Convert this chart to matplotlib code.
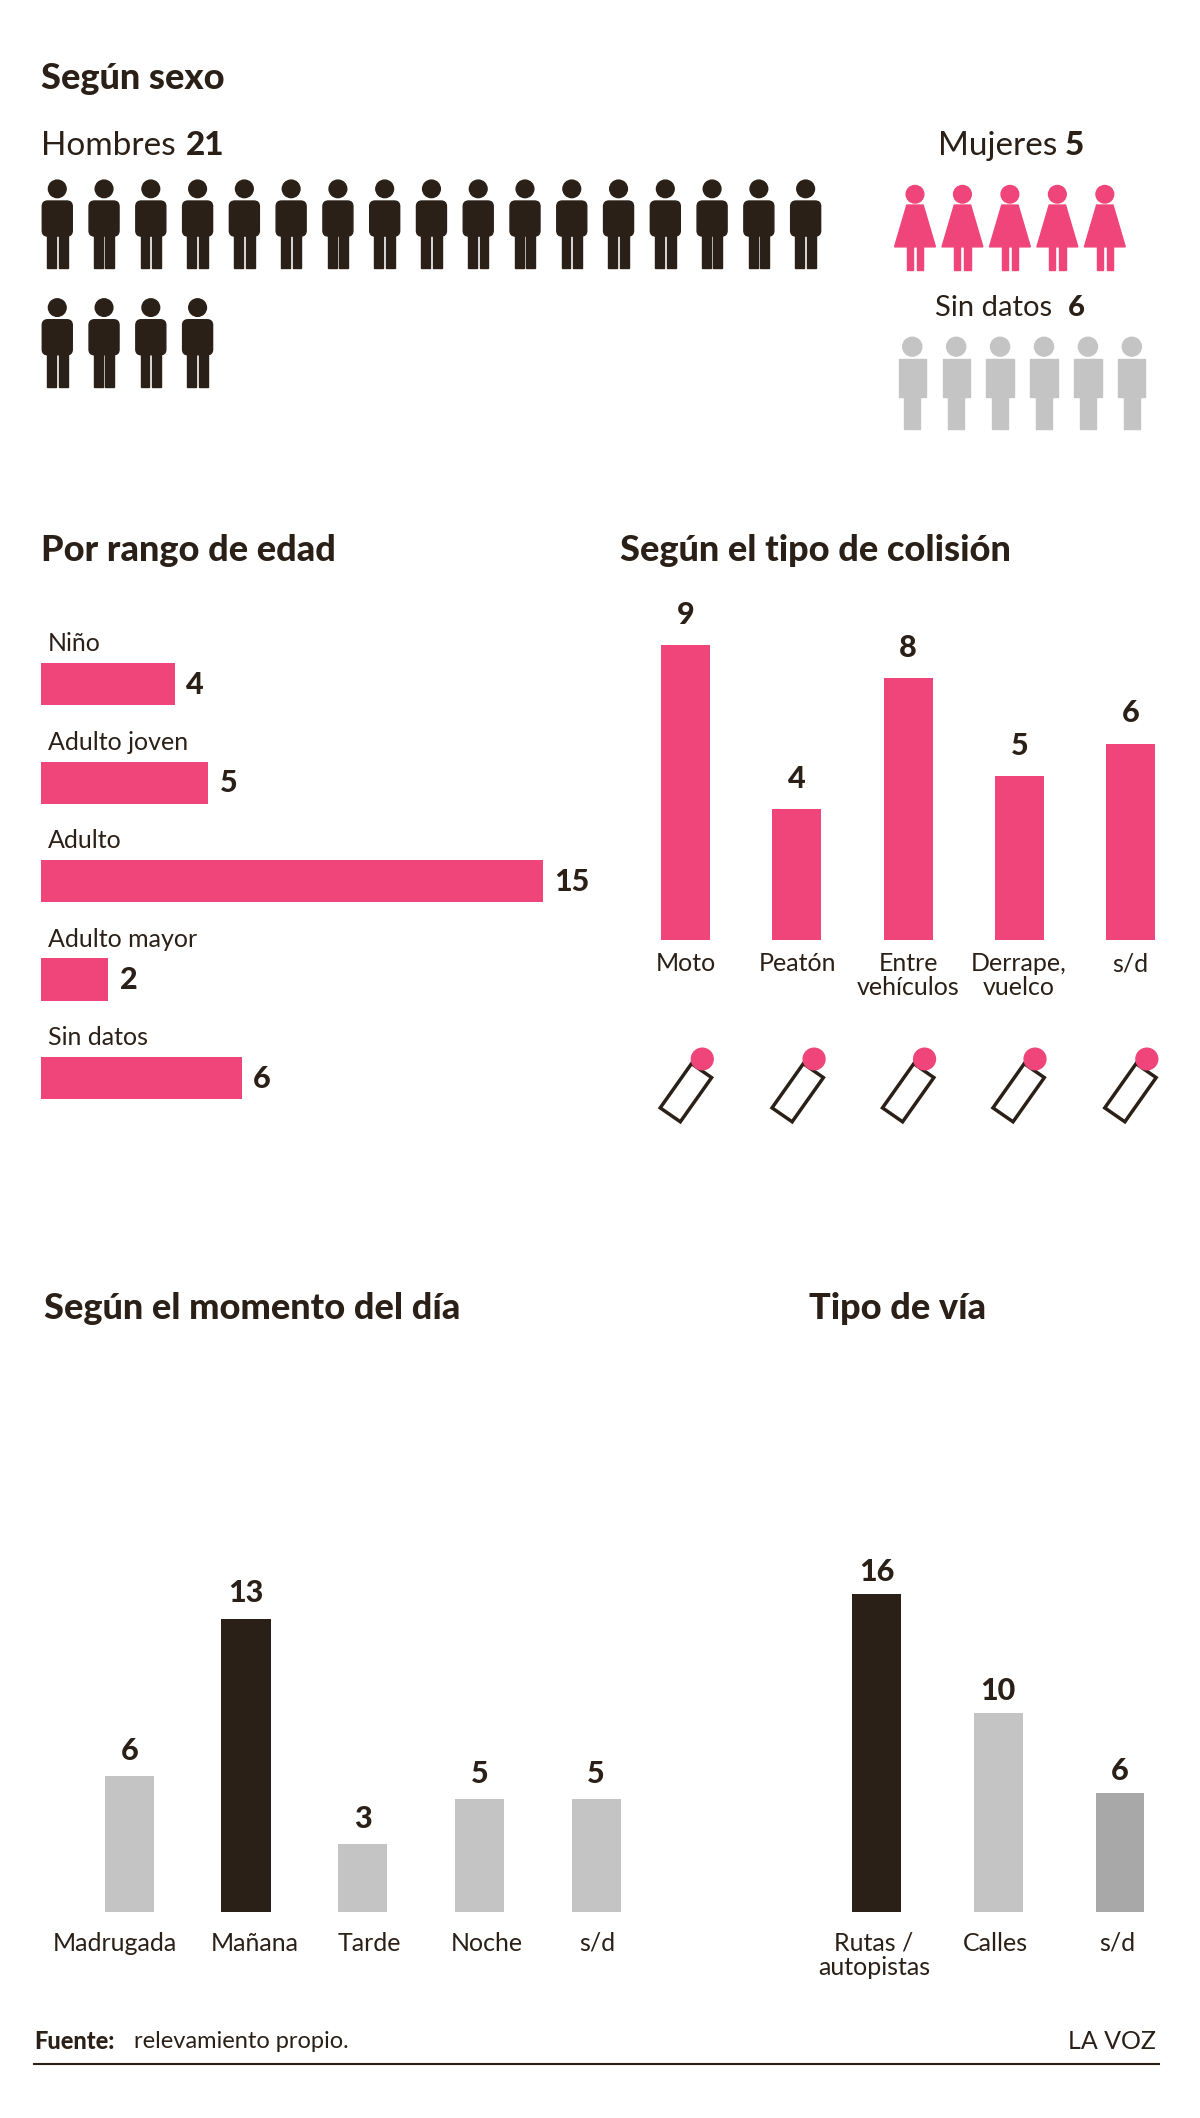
import matplotlib
matplotlib.use("Agg")
import matplotlib.pyplot as plt
from matplotlib.patches import Circle, Rectangle, Polygon, FancyBboxPatch
import numpy as np

plt.rcParams['font.family'] = ['Lato', 'DejaVu Sans']

# ---- data ----
sexo_labels = ["Hombres", "Mujeres", "Sin datos"]
sexo_values = [21, 5, 6]
edad_labels = ["Niño", "Adulto joven", "Adulto", "Adulto mayor", "Sin datos"]
edad_values = [4, 5, 15, 2, 6]
col_labels = ["Moto", "Peatón", "Entre\nvehículos", "Derrape,\nvuelco", "s/d"]
col_values = [9, 4, 8, 5, 6]
dia_labels = ["Madrugada", "Mañana", "Tarde", "Noche", "s/d"]
dia_values = [6, 13, 3, 5, 5]
via_labels = ["Rutas /\nautopistas", "Calles", "s/d"]
via_values = [16, 10, 6]

DARK = "#2b2017"
PINK = "#f0457a"
GRAY = "#c4c4c4"
MGRAY = "#a8a8a8"
W, H = 880, 1570

fig = plt.figure(figsize=(12, 21.18), dpi=100)
bg = fig.add_axes([0, 0, 1, 1])
bg.set_xlim(0, W); bg.set_ylim(H, 0); bg.axis("off")

def T(x, y, s, **kw):
    bg.text(x, y, s, **kw)

def title(x, y, s):
    T(x, y, s, fontsize=26, fontweight="black", color=DARK, va="center")

def ax_at(x0, y0, x1, y1):
    return fig.add_axes([x0 / W, 1 - y1 / H, (x1 - x0) / W, (y1 - y0) / H])

def man(cx, top, c):
    bg.add_patch(Circle((cx, top + 7), 6.5, color=c))
    bg.add_patch(FancyBboxPatch((cx - 11, top + 16), 22, 26, boxstyle="round,pad=0,rounding_size=4", color=c))
    bg.add_patch(Rectangle((cx - 7.5, top + 38), 6.5, 28, color=c))
    bg.add_patch(Rectangle((cx + 1, top + 38), 6.5, 28, color=c))

def woman(cx, top, c):
    bg.add_patch(Circle((cx, top + 7), 6.5, color=c))
    bg.add_patch(Polygon([(cx - 6, top + 15), (cx + 6, top + 15), (cx + 15, top + 46), (cx - 15, top + 46)], color=c))
    bg.add_patch(Rectangle((cx - 6, top + 44), 4.5, 19, color=c))
    bg.add_patch(Rectangle((cx + 1.5, top + 44), 4.5, 19, color=c))

def gperson(cx, top, c):
    bg.add_patch(Circle((cx, top + 7), 7, color=c))
    bg.add_patch(Rectangle((cx - 10, top + 16), 20, 28, color=c))
    bg.add_patch(Rectangle((cx - 6, top + 42), 12, 26, color=c))

title(30, 58, "Según sexo")
T(30, 108, "Hombres", fontsize=24, color=DARK, va="center")
T(136, 108, str(sexo_values[0]), fontsize=24, fontweight="black", color=DARK, va="center")
for i in range(sexo_values[0]):
    r, k = divmod(i, 17)
    man(42 + k * 34.3, 133 + r * 88, DARK)
T(688, 108, "Mujeres", fontsize=24, color=DARK, va="center")
T(781, 108, str(sexo_values[1]), fontsize=24, fontweight="black", color=DARK, va="center")
for i in range(sexo_values[1]):
    woman(671 + i * 34.8, 137, PINK)
T(686, 228, "Sin datos", fontsize=21, color=DARK, va="center")
T(783, 228, str(sexo_values[2]), fontsize=21, fontweight="black", color=DARK, va="center")
for i in range(sexo_values[2]):
    gperson(669 + i * 32.2, 250, GRAY)

# ---- edad ----
title(30, 408, "Por rango de edad")
a = ax_at(30, 455, 430, 820)
a.set_xlim(0, 400 / 24.53); a.set_ylim(len(edad_values) - 0.5, -0.5)
a.barh(range(len(edad_values)), edad_values, height=0.43, color=PINK, align="edge")
for i, (l, v) in enumerate(zip(edad_labels, edad_values)):
    a.text(0.2, i - 0.08, l, fontsize=18, color=DARK, va="bottom")
    a.text(v + 0.35, i + 0.22, str(v), fontsize=22, fontweight="black", color=DARK, va="center")
a.axis("off")

# ---- colisión ----
title(455, 408, "Según el tipo de colisión")
a = ax_at(462, 440, 870, 697)
x = np.arange(len(col_values))
a.set_xlim(-0.5, len(x) - 0.5); a.set_ylim(0, 257 / 24.3)
a.bar(x, col_values, width=0.44, color=PINK)
for xi, v in zip(x, col_values):
    a.text(xi, v + 0.5, str(v), ha="center", va="bottom", fontsize=22, fontweight="black", color=DARK)
a.axis("off")
for xi, l in zip([503, 585, 666, 747, 829], col_labels):
    T(xi, 706, l, ha="center", va="top", fontsize=18, color=DARK, linespacing=1.05)
    car = Rectangle((xi - 9, 790), 18, 40, angle=35, rotation_point="center", fill=False, ec=DARK, lw=2.5)
    bg.add_patch(car)
    bg.add_patch(Circle((xi + 12, 785), 8, color=PINK))

# ---- momento del día ----
title(32, 970, "Según el momento del día")
a = ax_at(52, 1150, 480, 1417)
x = np.arange(len(dia_values))
a.set_xlim(-0.5, len(x) - 0.5); a.set_ylim(0, 267 / 16.7)
cols = [DARK if v == max(dia_values) else GRAY for v in dia_values]
a.bar(x, dia_values, width=0.42, color=cols)
for xi, v in zip(x, dia_values):
    a.text(xi, v + 0.5, str(v), ha="center", va="bottom", fontsize=22, fontweight="black", color=DARK)
a.axis("off")
for xi, l in zip([84, 187, 271, 357, 438], dia_labels):
    T(xi, 1432, l, ha="center", va="top", fontsize=18, color=DARK)

# ---- tipo de vía ----
title(593, 970, "Tipo de vía")
a = ax_at(598, 1150, 866, 1417)
x = np.arange(len(via_values))
a.set_xlim(-0.5, len(x) - 0.5); a.set_ylim(0, 267 / 14.7)
a.bar(x, via_values, width=0.4, color=[DARK, GRAY, MGRAY])
for xi, v in zip(x, via_values):
    a.text(xi, v + 0.4, str(v), ha="center", va="bottom", fontsize=22, fontweight="black", color=DARK)
a.axis("off")
for xi, l in zip([641, 730, 819], via_labels):
    T(xi, 1432, l, ha="center", va="top", fontsize=18, color=DARK, linespacing=1.05)

# ---- footer ----
T(25, 1513, "Fuente:", fontsize=17, fontweight="black", color=DARK, va="center")
T(98, 1513, "relevamiento propio.", fontsize=17, color=DARK, va="center")
T(848, 1513, "LA VOZ", fontsize=18, color=DARK, va="center", ha="right")
bg.plot([25, 850], [1530, 1530], color=DARK, lw=1.5)

fig.savefig("out.png", dpi=100, facecolor="white")
